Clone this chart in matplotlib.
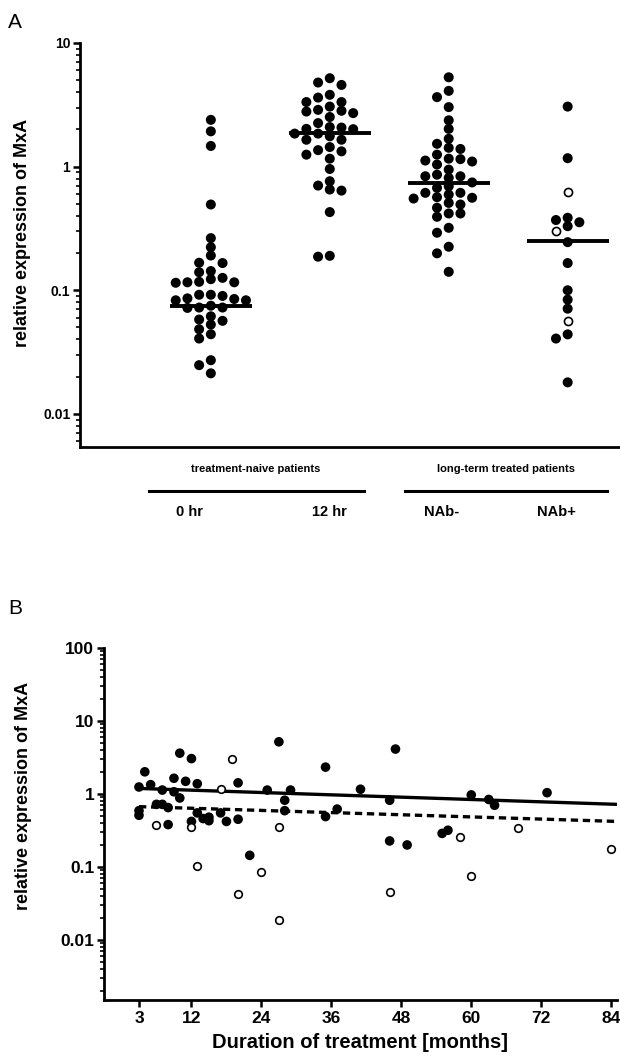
import numpy as np
import matplotlib
matplotlib.use("Agg")
import matplotlib.pyplot as plt
from matplotlib.ticker import FixedLocator, LogLocator, NullFormatter, NullLocator

plt.rcParams["font.family"] = ["Liberation Sans", "DejaVu Sans"]

# ---------------- Panel A: MxA expression by patient group ----------------
group_names = ["0 hr", "12 hr", "NAb-", "NAb+"]
group_titles = ["treatment-naive patients", "long-term treated patients"]

zero_hr = [2.39, 1.93, 1.47, 0.494, 0.264, 0.223, 0.191, 0.167, 0.166, 0.143,
           0.140, 0.126, 0.123, 0.117, 0.116, 0.116, 0.115, 0.092, 0.092, 0.090,
           0.086, 0.085, 0.083, 0.083, 0.075, 0.0725, 0.0725, 0.072, 0.0616,
           0.058, 0.0566, 0.0528, 0.0484, 0.0441, 0.0407, 0.0272, 0.0248, 0.0213]
twelve_hr = [5.19, 4.79, 4.58, 3.81, 3.62, 3.33, 3.33, 3.06, 2.88, 2.83, 2.79,
             2.71, 2.52, 2.25, 2.09, 2.07, 2.02, 2.01, 1.85, 1.85, 1.76, 1.65,
             1.65, 1.44, 1.36, 1.33, 1.25, 1.16, 0.957, 0.762, 0.703, 0.653,
             0.640, 0.429, 0.190, 0.187]
nab_neg = [5.28, 4.10, 3.65, 3.03, 2.37, 2.02, 1.68, 1.53, 1.42, 1.39, 1.25,
           1.16, 1.15, 1.12, 1.10, 1.04, 0.946, 0.861, 0.836, 0.836, 0.811,
           0.745, 0.693, 0.673, 0.614, 0.614, 0.594, 0.566, 0.560, 0.552, 0.509,
           0.494, 0.465, 0.418, 0.418, 0.393, 0.320, 0.292, 0.225, 0.199, 0.141]
nab_pos_filled = [3.06, 1.17, 0.386, 0.37, 0.355, 0.330, 0.245, 0.166, 0.100,
                  0.084, 0.071, 0.044, 0.0407, 0.018]
nab_pos_open = [0.62, 0.30, 0.056]
group_center_lines = [0.074, 1.86, 0.74, 0.25]

yticks_a = [0.01, 0.1, 1, 10]
yticklabels_a = ["0.01", "0.1", "1", "10"]

# ---------------- Panel B: MxA vs duration of treatment ----------------
months_filled = [3, 4, 5, 3, 3, 6, 7, 8, 7, 9, 9, 10, 12, 11, 13, 10, 8, 12, 13,
                 14, 15, 15, 17, 18, 20, 20, 22, 25, 27, 28, 28, 29, 35, 35, 37,
                 41, 47, 46, 46, 49, 55, 56, 60, 63, 64, 73]
mxa_filled = [1.245, 2.01, 1.34, 0.59, 0.51, 0.72, 0.72, 0.65, 1.13, 1.64, 1.07,
              3.62, 3.05, 1.49, 1.38, 0.88, 0.38, 0.42, 0.55, 0.46, 0.48, 0.43,
              0.55, 0.42, 1.42, 0.45, 0.144, 1.13, 5.18, 0.82, 0.59, 1.13, 2.33,
              0.49, 0.62, 1.16, 4.12, 0.82, 0.227, 0.20, 0.288, 0.318, 0.97,
              0.84, 0.70, 1.04]
months_open = [6, 12, 13, 24, 20, 27, 27, 58, 46, 60, 68, 84, 17, 19]
mxa_open = [0.372, 0.354, 0.102, 0.086, 0.042, 0.0186, 0.354, 0.256, 0.046,
            0.074, 0.337, 0.176, 1.16, 2.99]

# trend lines (value at first and last month)
trend_months = [3, 85]
trend_solid = [1.19, 0.72]
trend_dashed = [0.67, 0.42]

xticks_b = [3, 12, 24, 36, 48, 60, 72, 84]
yticks_b = [0.01, 0.1, 1, 10, 100]
yticklabels_b = ["0.01", "0.1", "1", "10", "100"]

W, H = 620, 1058
fig = plt.figure(figsize=(W / 100, H / 100), dpi=100)


def px_axes(left, top, right, bottom):
    return fig.add_axes([left / W, 1 - bottom / H, (right - left) / W, (bottom - top) / H])


def style_log_axis(ax, ticks, labels, lo, hi, labelsize):
    ax.set_yscale("log")
    ax.set_ylim(lo, hi)
    ax.yaxis.set_major_locator(FixedLocator(ticks))
    ax.set_yticklabels(labels)
    ax.yaxis.set_minor_locator(LogLocator(base=10, subs=np.arange(2, 10)))
    ax.yaxis.set_minor_formatter(NullFormatter())
    for s in ("top", "right"):
        ax.spines[s].set_visible(False)
    for s in ("left", "bottom"):
        ax.spines[s].set_linewidth(2.0)
    ax.tick_params(axis="y", which="major", length=5, width=1.8,
                   labelsize=labelsize, pad=2)
    ax.tick_params(axis="y", which="minor", length=3, width=1.2)
    for lab in ax.get_yticklabels():
        lab.set_fontweight("bold")


def swarm_offsets(ax, center, values, slot_px=11.7, min_gap_px=8.0):
    """Spread points sideways into slots so that they do not overlap."""
    ypix = ax.transData.transform(np.column_stack([np.full(len(values), center), values]))[:, 1]
    ppu = ax.transData.transform((1, 1))[0] - ax.transData.transform((0, 1))[0]
    order = np.argsort(-np.asarray(values))
    slots = {}
    offs = np.zeros(len(values))
    cand = [0, -1, 1, -2, 2, -3, 3, -4, 4]
    for i in order:
        for k in cand:
            if all(abs(ypix[i] - y) >= min_gap_px for y in slots.get(k, [])):
                slots.setdefault(k, []).append(ypix[i])
                offs[i] = k * slot_px / ppu
                break
    return offs


# ---- Panel A ----
axA = px_axes(80, 43, 620, 447)
style_log_axis(axA, yticks_a, yticklabels_a, 0.0054, 10, 10)
axA.set_xlim(-0.1, 4.44)
axA.xaxis.set_major_locator(NullLocator())
axA.set_ylabel("relative expression of MxA", fontsize=13, fontweight="bold")
axA.yaxis.set_label_coords(-0.09, 0.53)

positions = [1, 2, 3, 4]
groups = [zero_hr, twelve_hr, nab_neg, nab_pos_filled + nab_pos_open]
n_open = [0, 0, 0, len(nab_pos_open)]
for pos, vals, nop, c in zip(positions, groups, n_open, group_center_lines):
    offs = swarm_offsets(axA, pos, vals)
    vals = np.asarray(vals)
    nf = len(vals) - nop
    axA.scatter(pos + offs[:nf], vals[:nf], s=52, c="black", edgecolors="none", zorder=3)
    if nop:
        axA.scatter(pos + offs[nf:], vals[nf:], s=34, facecolors="white",
                    edgecolors="black", linewidths=1.2, zorder=3)
    axA.plot([pos - 0.345, pos + 0.345], [c, c], color="black", lw=2.8,
             solid_capstyle="butt", zorder=4)


# group annotations below panel A
def fx(px):
    return (px - 80) / 540


def fy(py):
    return (447 - py) / 404


kw = dict(transform=axA.transAxes, clip_on=False, ha="center", va="center",
          fontweight="bold")
axA.text(fx(256), fy(469), group_titles[0], fontsize=8, **kw)
axA.text(fx(506), fy(469), group_titles[1], fontsize=8, **kw)
axA.plot([fx(149), fx(364)], [fy(491), fy(491)], transform=axA.transAxes,
         clip_on=False, color="black", lw=2.2)
axA.plot([fx(405), fx(607)], [fy(491), fy(491)], transform=axA.transAxes,
         clip_on=False, color="black", lw=2.2)
for name, px in zip(group_names, [190, 329, 442, 556]):
    axA.text(fx(px), fy(512), name, fontsize=10.5, **kw)

fig.text(8 / W, 1 - 22 / H, "A", fontsize=15, ha="left", va="center")

# ---- Panel B ----
axB = px_axes(104, 648, 617, 1000)
style_log_axis(axB, yticks_b, yticklabels_b, 0.0015, 100, 12.5)
axB.set_xlim(-3, 85)
axB.set_xticks(xticks_b)
axB.tick_params(axis="x", length=5, width=1.8, labelsize=12.5, pad=3)
for lab in axB.get_xticklabels():
    lab.set_fontweight("bold")
axB.set_xlabel("Duration of treatment [months]", fontsize=14.5, fontweight="bold",
               labelpad=5)
axB.set_ylabel("relative expression of MxA", fontsize=13, fontweight="bold")
axB.yaxis.set_label_coords(-0.14, 0.58)

axB.scatter(months_filled, mxa_filled, s=48, c="black", edgecolors="none", zorder=3)
axB.scatter(months_open, mxa_open, s=30, facecolors="white", edgecolors="black",
            linewidths=1.2, zorder=3)

axB.plot(trend_months, trend_solid, color="black", lw=2.4, zorder=2)
axB.plot(trend_months, trend_dashed, color="black", lw=2.4,
         linestyle=(0, (2.2, 1.4)), zorder=2)

fig.text(8 / W, 1 - 608 / H, "B", fontsize=15, ha="left", va="center")

fig.savefig("out.png", dpi=100)
